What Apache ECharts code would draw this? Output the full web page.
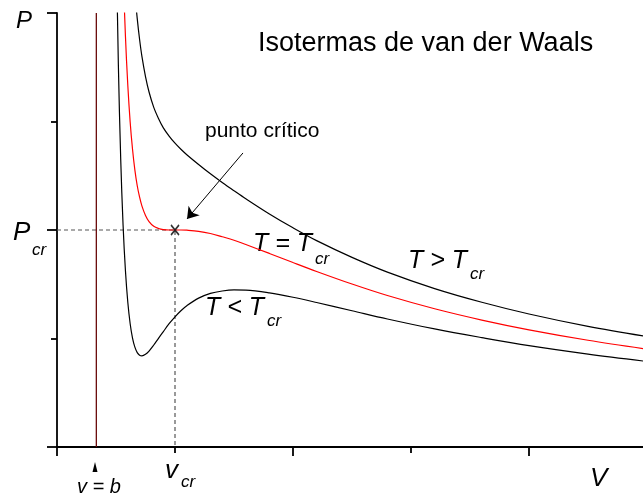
<!DOCTYPE html>
<html>
<head>
<meta charset="utf-8">
<script src="https://cdn.jsdelivr.net/npm/echarts@6/dist/echarts.min.js"></script>
<style>
  html, body { margin: 0; padding: 0; background: #fff; }
  #chart { width: 643px; height: 494px; }
</style>
</head>
<body>
<div id="chart"></div>
<script>
// Reduced volume V/Vcr sampled along the isotherms
const V = [0.50, 0.52, 0.54, 0.56, 0.58, 0.60, 0.62, 0.64, 0.66, 0.68, 0.70, 0.72,
           0.75, 0.78, 0.82, 0.86, 0.90, 0.95, 1.00, 1.05, 1.10, 1.20, 1.30, 1.40,
           1.50, 1.60, 1.80, 2.00, 2.20, 2.50, 2.80, 3.20, 3.60, 4.00, 4.50, 5.00];

// Reduced pressure P/Pcr on each isotherm
const P_below = [2.40, 1.762, 1.325, 1.022, 0.812, 0.667, 0.568, 0.502, 0.460, 0.435, 0.423, 0.420,
                 0.427, 0.442, 0.470, 0.501, 0.531, 0.568, 0.600, 0.628, 0.651, 0.686, 0.708, 0.719,
                 0.724, 0.723, 0.710, 0.690, 0.666, 0.628, 0.590, 0.544, 0.504, 0.467, 0.428, 0.394];
const P_critical = [4.00, 3.191, 2.615, 2.199, 1.893, 1.667, 1.498, 1.372, 1.276, 1.204, 1.151, 1.110,
                    1.067, 1.039, 1.017, 1.007, 1.002, 1.000, 1.000, 1.000, 0.999, 0.994, 0.984, 0.969,
                    0.953, 0.933, 0.892, 0.850, 0.809, 0.751, 0.698, 0.637, 0.585, 0.540, 0.492, 0.451];
const P_above = [5.60, 4.619, 3.906, 3.375, 2.974, 2.667, 2.429, 2.241, 2.093, 1.974, 1.878, 1.799,
                 1.707, 1.636, 1.565, 1.514, 1.472, 1.433, 1.400, 1.372, 1.347, 1.302, 1.259, 1.219,
                 1.181, 1.144, 1.074, 1.010, 0.951, 0.874, 0.806, 0.730, 0.667, 0.613, 0.556, 0.509];

// Axis extents and tick marks (V/Vcr, P/Pcr)
const X_MAX = 4.966;
const X_MAJOR = [0, 2, 4];
const Y_MAX = 2;

// Co-volume b = Vcr/3 and the critical point
const B_VOLUME = 1 / 3;
const CRIT = [1, 1];
// "punto crítico" pointer: tail and tip
const ARROW_FROM = [1.576, 1.355];
const ARROW_TO = [1.102, 1.051];

const pairs = (ys) => V.map((v, i) => [v, ys[i]]);

const chart = echarts.init(document.getElementById('chart'), null, { renderer: 'canvas' });

const axisStyle = { color: '#000', width: 1.8 };
const curve = (name, ys, color) => ({
  name, type: 'line', data: pairs(ys), smooth: 0.35,
  showSymbol: false, symbol: 'none', clip: true,
  lineStyle: { color, width: 1.2 }, z: 3
});

const FONT = '"Liberation Sans", Arial, sans-serif';
const txt = (x, y, text, size, italic, align) => ({
  type: 'text', x, y, silent: true,
  style: {
    text, fill: '#000', align: align || 'left', verticalAlign: 'middle',
    font: (italic ? 'italic ' : '') + size + 'px ' + FONT
  }
});

chart.setOption({
  animation: false,
  grid: { left: 57, top: 13, right: 0, bottom: 47, containLabel: false },
  xAxis: {
    type: 'value', min: 0, max: X_MAX, interval: 2,
    axisLine: { lineStyle: axisStyle },
    axisTick: { length: 9, lineStyle: axisStyle, customValues: X_MAJOR },
    minorTick: { show: true, splitNumber: 2, length: 6, lineStyle: axisStyle },
    axisLabel: { show: false },
    splitLine: { show: false }, minorSplitLine: { show: false }
  },
  yAxis: {
    type: 'value', min: 0, max: Y_MAX, interval: 1,
    axisLine: { lineStyle: axisStyle },
    axisTick: { length: 10, lineStyle: axisStyle },
    minorTick: { show: true, splitNumber: 2, length: 6, lineStyle: axisStyle },
    axisLabel: { show: false },
    splitLine: { show: false }, minorSplitLine: { show: false }
  },
  series: [
    {
      name: 'v = b', type: 'line', data: [[B_VOLUME, 0], [B_VOLUME, Y_MAX]],
      symbol: 'none', lineStyle: { color: '#6a0a0a', width: 1.3 }, z: 2
    },
    {
      name: 'crit guides', type: 'line',
      data: [[0, CRIT[1]], CRIT, [CRIT[0], 0]],
      symbol: 'none', lineStyle: { color: '#555', width: 1.2, type: [4, 3] }, z: 1
    },
    curve('T > Tcr', P_above, '#000'),
    curve('T = Tcr', P_critical, '#ff0000'),
    curve('T < Tcr', P_below, '#000'),
    {
      name: 'critical point', type: 'scatter', data: [CRIT],
      symbol: 'path://M0,0L8,10M8,0L0,10', symbolSize: [8, 10], symbolKeepAspect: false,
      itemStyle: { color: 'none', borderColor: '#000', borderWidth: 1.6 }, z: 5,
      markLine: {
        silent: true, symbol: ['none', 'arrow'], symbolSize: 11,
        label: { show: false },
        lineStyle: { color: '#000', width: 1, type: 'solid' },
        data: [[{ coord: ARROW_FROM }, { coord: ARROW_TO }]]
      }
    }
  ],
  graphic: [
    txt(258, 44, 'Isotermas de van der Waals', 27, false),
    txt(205, 131, 'punto crítico', 21, false),
    txt(16, 21, 'P', 24, true),
    txt(13, 233, 'P', 26, true),
    txt(32, 250, 'cr', 17, true),
    txt(590, 479, 'V', 26, true),
    txt(165, 471, 'v', 26, true),
    txt(181, 482, 'cr', 17, true),
    txt(99, 487, 'v = b', 20, true, 'center'),
    { type: 'polygon', silent: true, shape: { points: [[92.5, 472], [95, 462], [97.5, 472]] }, style: { fill: '#000' } },
    txt(253, 244, 'T = T', 25, true),
    txt(315, 259, 'cr', 17, true),
    txt(408, 261, 'T > T', 25, true),
    txt(470, 274, 'cr', 17, true),
    txt(205, 308, 'T < T', 25, true),
    txt(267, 321, 'cr', 17, true)
  ]
});
</script>
</body>
</html>
